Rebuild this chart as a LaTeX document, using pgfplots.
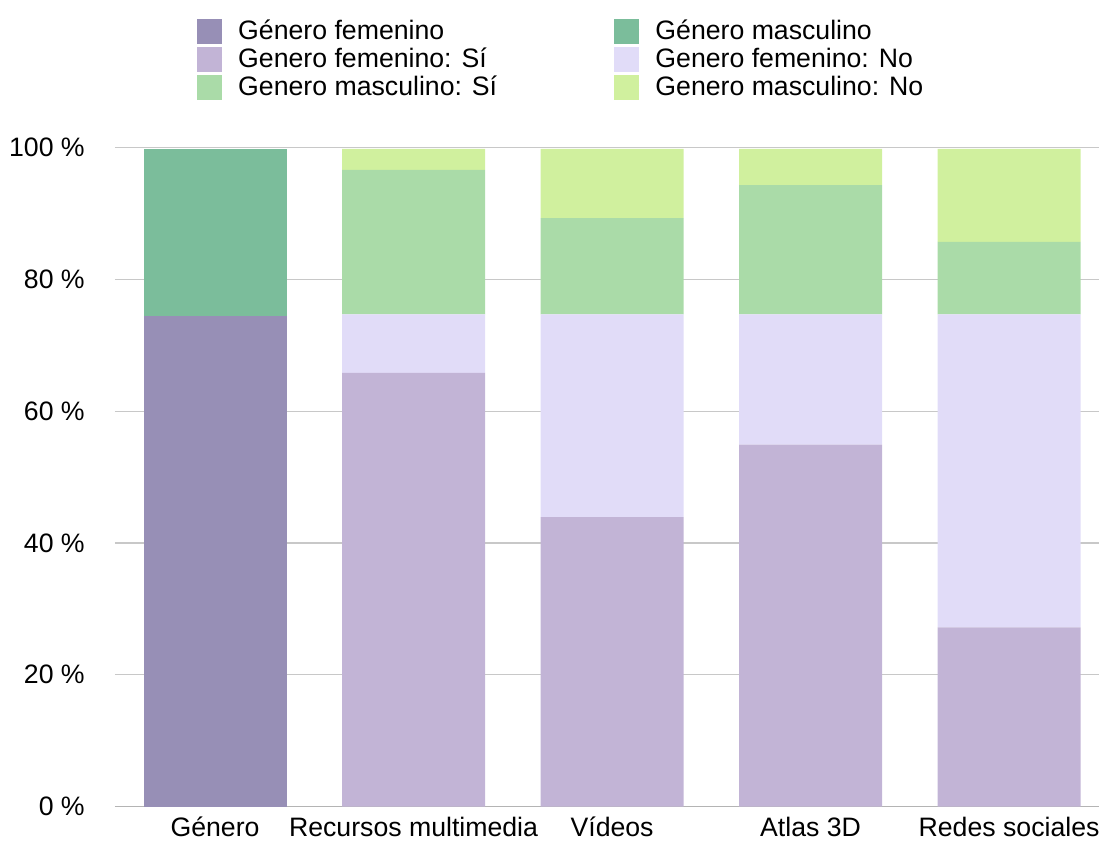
\documentclass[border=0pt]{standalone}
\usepackage{fontspec}
\setmainfont{Liberation Sans}
\usepackage{pgfplots}
\pgfplotsset{compat=1.18}
\definecolor{gfem}{RGB}{151,143,182}
\definecolor{gmasc}{RGB}{123,189,155}
\definecolor{fsi}{RGB}{194,180,214}
\definecolor{fno}{RGB}{225,220,248}
\definecolor{msi}{RGB}{170,219,168}
\definecolor{mno}{RGB}{208,240,158}
\definecolor{gridc}{RGB}{200,200,200}
\definecolor{basec}{RGB}{180,180,180}
\begin{document}
\begin{tikzpicture}
\begin{axis}[
  at={(0,0)}, anchor=south west,
  scale only axis, width=738pt, height=494.25pt,
  ybar stacked, bar width=0.72,
  xmin=-0.504, xmax=4.453, ymin=0, ymax=100,
  xtick={0,1,2,3,4},
  xticklabels={Género, Recursos multimedia, Vídeos, Atlas 3D, Redes sociales},
  ytick={0,20,40,60,80,100},
  yticklabels={0 \%,20 \%,40 \%,60 \%,80 \%,100 \%},
  ymajorgrids, major grid style={draw=gridc, line width=0.9pt},
  axis x line*=bottom, axis y line*=left,
  y axis line style={draw=none},
  x axis line style={draw=basec, line width=1.3pt, -},
  major tick length=0pt, tick style={draw=none},
  ticklabel style={font=\fontsize{20}{24}\selectfont},
  xticklabel style={anchor=base, inner sep=0pt, text depth=0pt, yshift=-22.6pt},
  yticklabel style={anchor=east, inner sep=0pt, xshift=-22.5pt},
  legend columns=2,
  legend cell align=left,
  legend style={at={(axis description cs:0.0833,1.1946)}, anchor=north west, draw=none, inner sep=0pt, font=\fontsize{20}{24}\selectfont,
    nodes={inner sep=0pt, text height=15pt, text depth=0pt},
    /tikz/every even column/.append style={column sep=88pt},
    /tikz/every odd column/.append style={column sep=12pt}, row sep=6pt},
  legend image code/.code={\path[#1, overlay] (0pt,-11pt) rectangle (18.75pt,7.75pt); \path (0pt,0pt) -- (18.75pt,0pt);},
]
\addplot[fill=gfem, draw=none] coordinates {(0,74.4) (1,0) (2,0) (3,0) (4,0)};
\addplot[fill=gmasc, draw=none] coordinates {(0,25.4) (1,0) (2,0) (3,0) (4,0)};
\addplot[fill=fsi, draw=none] coordinates {(0,0) (1,65.8) (2,43.9) (3,54.9) (4,27.2)};
\addplot[fill=fno, draw=none] coordinates {(0,0) (1,8.9) (2,30.8) (3,19.8) (4,47.5)};
\addplot[fill=msi, draw=none] coordinates {(0,0) (1,21.9) (2,14.6) (3,19.6) (4,11.0)};
\addplot[fill=mno, draw=none] coordinates {(0,0) (1,3.2) (2,10.5) (3,5.5) (4,14.1)};
\legend{Género femenino, Género masculino, Genero femenino: Sí, Genero femenino: No, Genero masculino: Sí, Genero masculino: No}
\end{axis}
\pgfresetboundingbox
\path[use as bounding box] (-86.25pt,-25.9pt) rectangle (738pt,604.9pt);
\end{tikzpicture}
\end{document}
